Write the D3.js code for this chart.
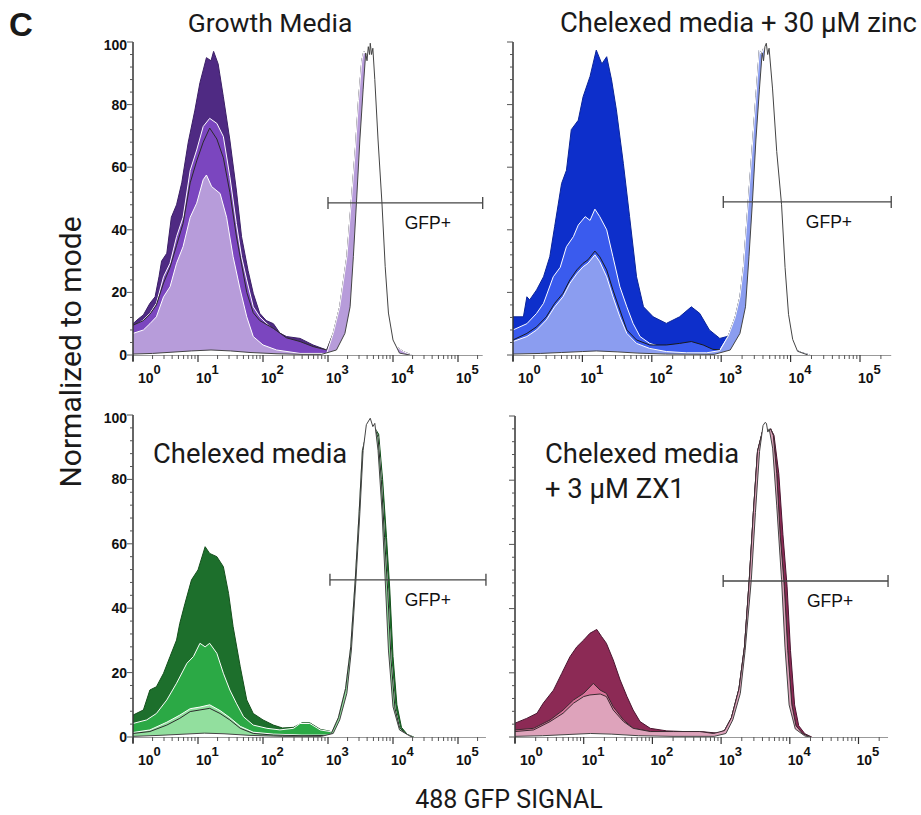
<!DOCTYPE html>
<html>
<head>
<meta charset="utf-8">
<script src="https://cdn.jsdelivr.net/npm/d3@7"></script>
<style>
  body { margin: 0; background: #fff; }
  svg { display: block; }
</style>
</head>
<body>
<script>
// x values are log10 of the GFP signal, y values are % of mode

// ---- Growth Media (purple) ----
var growthDark = [[0,10],[0.08,11.5],[0.16,12.8],[0.26,16.5],[0.34,18.6],[0.4,25],[0.44,30],[0.52,32.5],[0.59,44],[0.67,48],[0.75,55],[0.85,68],[0.95,78],[1.03,87],[1.13,95],[1.2,94],[1.24,97],[1.31,93],[1.39,82.5],[1.49,68.7],[1.59,52.7],[1.67,37.8],[1.77,27],[1.85,19.7],[1.95,13.3],[2.05,11],[2.16,10],[2.26,7],[2.36,5.9],[2.57,5.3],[2.77,3.2],[2.98,1.6]];
var growthMidWhite = [[0,9],[0.16,11.2],[0.26,13.3],[0.36,16.5],[0.47,25],[0.57,29.3],[0.67,37.8],[0.77,44],[0.88,59],[0.98,65.5],[1.08,73],[1.18,75.6],[1.29,74],[1.39,69.8],[1.49,57],[1.59,42],[1.67,31.4],[1.75,24],[1.85,15.4],[1.95,12.2],[2.16,8],[2.36,4.8],[2.57,3.2],[2.77,2.1],[2.98,1.6]];
var growthMidBlack = [[0,9.5],[0.16,11],[0.26,13],[0.36,16],[0.47,23],[0.57,28],[0.67,35],[0.77,42],[0.88,55],[0.98,62],[1.08,68],[1.18,72.5],[1.29,69],[1.39,63],[1.49,52],[1.59,38],[1.67,29],[1.75,20],[1.85,13.5],[1.95,11],[2.16,8.5],[2.36,5.5],[2.57,4.3],[2.77,2.7],[2.98,1.6]];
var growthLight = [[0,6.9],[0.16,8],[0.26,10],[0.36,12.2],[0.47,18.6],[0.57,21.8],[0.67,29.3],[0.77,34.6],[0.88,44],[0.98,48.5],[1.08,56],[1.13,57.5],[1.21,53.8],[1.34,51.6],[1.44,44],[1.54,31.4],[1.65,20.8],[1.75,12.2],[1.85,5.9],[2.0,3.2],[2.21,1.6],[2.57,0.5],[2.98,0.5]];
var growthCtrlLow = [[0,0.3],[0.3,0.5],[0.6,0.9],[0.9,1.3],[1.2,1.6],[1.5,1.3],[1.8,0.8],[2.2,0.4],[2.6,0.2],[2.9,0.2]];
var growthPeak = [[3.08,6.9],[3.18,15.4],[3.29,31.4],[3.36,49.5],[3.42,65.5],[3.47,81.5],[3.52,94],[3.55,97],[3.58,96],[3.62,95],[3.67,88],[3.73,68],[3.79,48],[3.84,28],[3.89,13],[3.96,5],[4.06,2.5],[4.15,1.2],[4.28,0]];
var growthCtrlPeak = [[3.13,1.6],[3.26,6.9],[3.34,15.4],[3.39,31.4],[3.44,49.5],[3.49,68.7],[3.54,84.7],[3.58,96.5],[3.6,94],[3.62,98.5],[3.64,96],[3.65,99.6],[3.67,96],[3.69,98],[3.72,88],[3.77,68.7],[3.83,48.6],[3.88,28.2],[3.93,13.4],[4.0,4.8],[4.1,0.6],[4.26,0]];

// ---- Chelexed media + 30 uM zinc (blue) ----
var zincDark = [[0,12.2],[0.15,12.2],[0.2,18.6],[0.24,17.6],[0.34,20.8],[0.44,25],[0.53,31.4],[0.6,41],[0.7,54.8],[0.77,59],[0.84,72],[0.94,75],[1.01,82.5],[1.11,89],[1.2,97.4],[1.28,93],[1.35,95.3],[1.42,87.9],[1.49,78.3],[1.59,61.2],[1.68,44.2],[1.78,25],[1.88,15.4],[2.02,12.2],[2.21,10.1],[2.4,12.2],[2.57,15.4],[2.69,13.3],[2.83,8],[2.98,5.3]];
var zincMidWhite = [[0,8],[0.2,10],[0.34,13.3],[0.44,16.5],[0.58,25],[0.68,28],[0.77,34.6],[0.87,37.8],[0.94,41.5],[1.04,44.2],[1.11,43],[1.18,46.6],[1.25,44.2],[1.35,40],[1.44,31.4],[1.54,21.8],[1.64,15.4],[1.73,10.1],[1.83,5.9],[1.97,3.7],[2.21,2.1],[2.5,1.6],[2.79,1.1],[2.98,1.6]];
var zincMidBlack = [[0,4.8],[0.2,6.9],[0.34,9],[0.48,12.2],[0.6,16.5],[0.72,19.7],[0.82,24],[0.92,27.2],[1.01,29.3],[1.08,30.4],[1.18,33.2],[1.25,31.4],[1.35,27.2],[1.44,20.8],[1.54,14.4],[1.64,8],[1.78,4.8],[1.97,3.2],[2.21,3.2],[2.4,3.7],[2.57,4.3],[2.74,3.2],[2.88,1.8],[3.03,1.6]];
var zincLight = [[0,4.3],[0.2,5.9],[0.34,8],[0.48,11.2],[0.6,15.4],[0.72,18.6],[0.82,22.9],[0.92,26],[1.01,28.2],[1.08,29.3],[1.18,32],[1.25,29.8],[1.35,25],[1.44,18.6],[1.54,12.2],[1.64,6.9],[1.78,3.7],[1.97,2.1],[2.21,1.1],[2.5,0.7],[2.79,0.7],[2.98,1.4]];
var zincCtrlLow = [[0,0.3],[0.4,0.5],[0.7,0.8],[1.0,1.1],[1.2,1.3],[1.5,1.0],[1.8,0.6],[2.2,0.3],[2.9,0.2]];
var zincPeak = [[3.1,6],[3.2,12],[3.27,18.6],[3.32,28],[3.36,40],[3.43,61],[3.5,82.5],[3.55,97.4],[3.58,96],[3.61,98],[3.64,95],[3.68,88],[3.74,68],[3.8,48],[3.85,28],[3.9,13],[3.97,5],[4.05,2],[4.15,0.8],[4.28,0]];
var zincCtrlPeak = [[3.13,1.6],[3.27,6.9],[3.35,15.4],[3.4,31.4],[3.45,49],[3.5,68.7],[3.55,84.7],[3.59,96.5],[3.61,94],[3.63,98.5],[3.65,99.6],[3.67,96],[3.69,98],[3.74,85],[3.8,65],[3.87,48],[3.92,28],[3.97,13],[4.03,5],[4.1,1.2],[4.25,0]];

// ---- Chelexed media (green) ----
var chelexDark = [[0,6.8],[0.16,8.4],[0.26,14.6],[0.36,15.6],[0.47,19.8],[0.57,25],[0.67,30.1],[0.72,35.3],[0.8,41.5],[0.9,48.8],[1.0,51.9],[1.11,59.1],[1.18,57],[1.29,56],[1.39,52.9],[1.47,44.6],[1.54,34.3],[1.65,21.8],[1.75,11.5],[1.85,7.3],[2.0,5.3],[2.16,3.7],[2.3,2.8],[2.47,3],[2.6,4.4],[2.72,4.4],[2.88,2.4],[3.03,1.8]];
var chelexMid = [[0,4.2],[0.21,5.3],[0.36,7.3],[0.52,11.5],[0.67,16.7],[0.83,22.9],[0.93,25],[1.03,29.1],[1.11,28],[1.18,29.1],[1.29,26],[1.39,19.8],[1.49,14.6],[1.59,10.5],[1.7,6.3],[1.85,3.7],[2.06,2.7],[2.26,2.2],[2.47,2.7],[2.57,4.2],[2.72,4.2],[2.88,2.2],[3.03,1.7]];
var chelexLightWhite = [[0,1.4],[0.26,2.2],[0.52,4.6],[0.72,6.8],[0.88,8.8],[1.03,9.3],[1.18,10],[1.34,8.2],[1.49,6],[1.65,3.3],[1.85,1.5],[2.16,0.9],[2.6,0.6],[3.03,0.6]];
var chelexLightBlack = [[0,1.1],[0.26,1.7],[0.52,3.7],[0.72,5.8],[0.88,7.9],[1.03,8.4],[1.18,8.9],[1.34,7.3],[1.49,5.3],[1.65,2.7],[1.85,1.1],[2.16,0.6],[2.6,0.4],[3.03,0.5]];
var chelexCtrlLow = [[0,0.2],[0.4,0.5],[0.8,0.9],[1.1,1.2],[1.4,1.0],[1.8,0.5],[2.3,0.2],[2.9,0.2]];
var chelexDarkPeak = [[3.06,1.5],[3.16,6],[3.27,15],[3.35,28],[3.42,49],[3.48,70],[3.53,89],[3.6,95],[3.66,97],[3.72,96],[3.78,94],[3.84,80],[3.9,62],[3.95,46],[4.0,25],[4.06,10],[4.13,3],[4.22,0.8],[4.32,0]];
var chelexPeak = [[3.06,1.5],[3.16,6],[3.27,15],[3.35,28],[3.42,49],[3.48,70],[3.53,89],[3.6,95],[3.66,97],[3.72,96],[3.77,93],[3.82,80],[3.87,62],[3.92,45],[3.97,24],[4.03,9],[4.1,3],[4.2,0.8],[4.3,0]];
var chelexCtrlPeak = [[3.08,1.1],[3.18,5.3],[3.29,13.6],[3.36,27],[3.43,48.8],[3.49,69.5],[3.54,89],[3.59,97],[3.65,99],[3.69,96.4],[3.72,97.4],[3.77,89],[3.83,70.5],[3.88,48.8],[3.93,27],[4.0,9.4],[4.1,2.2],[4.26,0.3],[4.3,0]];

// ---- Chelexed media + 3 uM ZX1 (maroon) ----
var zx1Dark = [[0,4.3],[0.17,5.8],[0.32,7.4],[0.41,10.5],[0.56,14.6],[0.68,19.8],[0.8,25],[0.9,28.1],[1.0,30.2],[1.09,32.3],[1.19,33.5],[1.26,31.3],[1.33,29.2],[1.43,24],[1.53,17.8],[1.63,12.6],[1.72,8.4],[1.82,4.8],[1.97,2.7],[2.21,1.9],[2.45,1.7],[2.7,1.7],[2.95,1.2]];
var zx1Mid = [[0,2.2],[0.27,2.7],[0.51,5.3],[0.7,8.4],[0.85,11.5],[1.0,13.6],[1.14,16.7],[1.24,14.6],[1.33,13.6],[1.43,9.4],[1.58,5.3],[1.72,2.7],[1.97,1.7],[2.31,1.3],[2.7,1.3],[2.95,1.1]];
var zx1Light = [[0,1.7],[0.27,2.2],[0.51,4.8],[0.7,7.4],[0.85,10.5],[1.0,12.6],[1.09,13.1],[1.24,13.4],[1.33,12.6],[1.43,8.4],[1.58,4.8],[1.72,2.7],[1.97,1.7],[2.31,1.7],[2.69,1.7],[2.89,1.1]];
var zx1CtrlLow = [[0,0.2],[0.4,0.4],[0.8,0.8],[1.1,1.1],[1.4,0.9],[1.8,0.4],[2.3,0.2],[2.9,0.2]];
var zx1DarkPeak = [[3.05,2],[3.15,6],[3.26,15],[3.34,28],[3.41,49],[3.47,70],[3.53,89],[3.6,95],[3.66,94],[3.72,96],[3.77,94],[3.84,82],[3.9,63],[3.96,47],[4.01,27],[4.07,10],[4.13,3.5],[4.22,1],[4.32,0]];
var zx1Peak = [[3.05,2],[3.15,6],[3.26,15],[3.34,28],[3.41,49],[3.47,70],[3.53,89],[3.6,95],[3.66,94],[3.72,96],[3.76,94],[3.81,82],[3.86,63],[3.92,47],[3.97,27],[4.03,10],[4.09,3.5],[4.19,1],[4.3,0]];
var zx1CtrlPeak = [[3.07,1.1],[3.17,5.3],[3.28,13.6],[3.35,27],[3.44,49],[3.5,70],[3.56,89],[3.61,97],[3.64,98],[3.66,97.7],[3.68,95],[3.7,96],[3.75,90],[3.81,72],[3.88,49],[3.93,28],[3.99,10],[4.08,2.5],[4.22,0.3],[4.3,0]];

// axis ticks
var decades = [0, 1, 2, 3, 4, 5];
var yTicks = [0, 20, 40, 60, 80, 100];

// gates: [start, end, level, label position]
var gateGrowth = [3.0, 5.38, 48.6, 4.18];
var gateZinc = [3.03, 5.45, 48.9, 4.22];
var gateChelex = [3.03, 5.43, 48.8, 4.18];
var gateZx1 = [3.03, 5.43, 48.6, 4.25];

var panels = [
  { x0: 133, dec: 65, xMax: 5.38, yTop: 42, yBot: 355, yLabels: true,
    title: ["Growth Media"], tx: 270, ty: 32, anchor: "middle", fs: 26.5, gate: gateGrowth,
    series: [
      { d: growthDark.concat(growthPeak), fill: "#4f2a83", stroke: "#3b1f66" },
      { d: growthMidWhite.concat(growthPeak), fill: "#7b46bf", stroke: "#ffffff" },
      { d: growthMidBlack.concat(growthPeak), fill: "#7b46bf", stroke: "#2a2a2a" },
      { d: growthLight.concat(growthPeak), fill: "#b79cda", stroke: "#ffffff" },
      { d: growthCtrlLow.concat(growthCtrlPeak), fill: "#ffffff", stroke: "#444" }
    ] },
  { x0: 513, dec: 69.4, xMax: 5.45, yTop: 42, yBot: 355, yLabels: false,
    title: ["Chelexed media + 30 µM zinc"], tx: 560, ty: 32, anchor: "start", fs: 27.4, gate: gateZinc,
    series: [
      { d: zincDark.concat(zincPeak), fill: "#0d2fcb", stroke: "#0a2499" },
      { d: zincMidWhite.concat(zincPeak), fill: "#3a5bee", stroke: "#ffffff" },
      { d: zincMidBlack.concat(zincPeak), fill: "#3a5bee", stroke: "#1a1a1a" },
      { d: zincLight.concat(zincPeak), fill: "#8b9df0", stroke: "#ffffff" },
      { d: zincCtrlLow.concat(zincCtrlPeak), fill: "#ffffff", stroke: "#444" }
    ] },
  { x0: 133, dec: 65, xMax: 5.43, yTop: 415, yBot: 737, yLabels: true,
    title: ["Chelexed media"], tx: 153, ty: 463, anchor: "start", fs: 27.4, gate: gateChelex,
    series: [
      { d: chelexDark.concat(chelexDarkPeak), fill: "#1d6f2c", stroke: "#14501c" },
      { d: chelexMid.concat(chelexPeak), fill: "#2ba945", stroke: "#ffffff" },
      { d: chelexLightWhite.concat(chelexPeak), fill: "#92df9e", stroke: "#ffffff" },
      { d: chelexLightBlack.concat(chelexPeak), fill: "#92df9e", stroke: "#2a2a2a" },
      { d: chelexCtrlLow.concat(chelexCtrlPeak), fill: "#ffffff", stroke: "#444" }
    ] },
  { x0: 515, dec: 68.7, xMax: 5.43, yTop: 416, yBot: 737, yLabels: false,
    title: ["Chelexed media", "+ 3 µM ZX1"], tx: 545, ty: 463, anchor: "start", fs: 27.4, gate: gateZx1,
    series: [
      { d: zx1Dark.concat(zx1DarkPeak), fill: "#8c2a55", stroke: "#4a1530" },
      { d: zx1Mid.concat(zx1Peak), fill: "#d8749a", stroke: "#3a2a30" },
      { d: zx1Light.concat(zx1Peak), fill: "#dea3bb", stroke: "#3a2a30" },
      { d: zx1CtrlLow.concat(zx1CtrlPeak), fill: "#ffffff", stroke: "#444" }
    ] }
];

var svg = d3.select("body").append("svg")
  .attr("width", 921)
  .attr("height", 815);

panels.forEach(function(p) {
  var x = d3.scaleLinear().domain([0, p.xMax]).range([p.x0, p.x0 + p.xMax * p.dec]);
  var y = d3.scaleLinear().domain([0, 100]).range([p.yBot, p.yTop]);
  var g = svg.append("g");

  var area = d3.area()
    .x(function(d) { return x(d[0]); })
    .y0(y(0))
    .y1(function(d) { return y(d[1]); });
  var line = d3.line()
    .x(function(d) { return x(d[0]); })
    .y(function(d) { return y(d[1]); });

  // histograms, back to front
  p.series.forEach(function(s) {
    g.append("path").attr("d", area(s.d)).attr("fill", s.fill);
    g.append("path").attr("d", line(s.d))
      .attr("fill", "none")
      .attr("stroke", s.stroke)
      .attr("stroke-width", 1);
  });

  // x axis with log ticks
  g.append("line")
    .attr("x1", p.x0).attr("x2", x(p.xMax))
    .attr("y1", p.yBot + 0.5).attr("y2", p.yBot + 0.5)
    .attr("stroke", "#999").attr("stroke-width", 1);
  decades.forEach(function(k, i) {
    g.append("line")
      .attr("x1", x(k)).attr("x2", x(k))
      .attr("y1", p.yBot).attr("y2", p.yBot + 7)
      .attr("stroke", "#333").attr("stroke-width", 1.2);
    for (var m = 2; m < 10; m++) {
      var v = k + Math.log10(m);
      if (v > p.xMax) break;
      g.append("line")
        .attr("x1", x(v)).attr("x2", x(v))
        .attr("y1", p.yBot).attr("y2", p.yBot + 4)
        .attr("stroke", "#555").attr("stroke-width", 1);
    }
    var t = g.append("text")
      .attr("x", x(k) + (i == 0 ? 5 : -2))
      .attr("y", p.yBot + 28)
      .style("font-family", "Liberation Sans, Arial, sans-serif")
      .style("font-weight", "bold")
      .style("font-size", "14px")
      .attr("fill", "#111");
    t.append("tspan").text("10");
    t.append("tspan").attr("dy", -9).style("font-size", "13px").text(k);
  });

  // y axis
  g.append("line")
    .attr("x1", p.x0).attr("x2", p.x0)
    .attr("y1", p.yBot + 6).attr("y2", p.yTop)
    .attr("stroke", "#333").attr("stroke-width", 1.5);
  for (var v = 0; v <= 100; v += 4) {
    var major = v % 20 == 0;
    g.append("line")
      .attr("x1", p.x0 - (major ? 6 : 3)).attr("x2", p.x0)
      .attr("y1", y(v)).attr("y2", y(v))
      .attr("stroke", "#555").attr("stroke-width", 1);
  }
  if (p.yLabels) {
    yTicks.forEach(function(v) {
      g.append("text")
        .attr("x", p.x0 - 6)
        .attr("y", y(v) + (v == 100 ? 3 : 0))
        .attr("dy", "0.36em")
        .attr("text-anchor", "end")
        .style("font-family", "Liberation Sans, Arial, sans-serif")
        .style("font-weight", "bold")
        .style("font-size", "14px")
        .attr("fill", "#111")
        .text(v);
    });
  }

  // GFP+ gate
  var gx1 = x(p.gate[0]), gx2 = x(p.gate[1]), gy = y(p.gate[2]);
  g.append("line").attr("x1", gx1).attr("x2", gx2).attr("y1", gy).attr("y2", gy)
    .attr("stroke", "#444").attr("stroke-width", 1.3);
  [gx1, gx2].forEach(function(gxx) {
    g.append("line").attr("x1", gxx).attr("x2", gxx).attr("y1", gy - 6).attr("y2", gy + 6)
      .attr("stroke", "#444").attr("stroke-width", 1.3);
  });
  g.append("text")
    .attr("x", x(p.gate[3]))
    .attr("y", gy + 26)
    .style("font-family", "Liberation Sans, Arial, sans-serif")
    .style("font-size", "17.5px")
    .attr("fill", "#111")
    .text("GFP+");

  // panel title
  p.title.forEach(function(line, i) {
    svg.append("text")
      .attr("x", p.tx)
      .attr("y", p.ty + i * 35)
      .attr("text-anchor", p.anchor)
      .style("font-family", "Roboto, sans-serif")
      .style("font-size", p.fs + "px")
      .attr("fill", "#1a1a1a")
      .text(line);
  });
});

// panel letter
svg.append("text")
  .attr("x", 9).attr("y", 36)
  .style("font-family", "Liberation Sans, Arial, sans-serif")
  .style("font-weight", "bold")
  .style("font-size", "33px")
  .attr("fill", "#1a1a1a")
  .text("C");

// shared axis titles
svg.append("text")
  .attr("transform", "translate(81,352)rotate(-90)")
  .attr("text-anchor", "middle")
  .style("font-family", "Roboto, sans-serif")
  .style("font-size", "30px")
  .attr("fill", "#1a1a1a")
  .text("Normalized to mode");

svg.append("text")
  .attr("x", 509).attr("y", 808)
  .attr("text-anchor", "middle")
  .style("font-family", "Roboto, sans-serif")
  .style("font-size", "25px")
  .attr("fill", "#1a1a1a")
  .text("488 GFP SIGNAL");
</script>
</body>
</html>
